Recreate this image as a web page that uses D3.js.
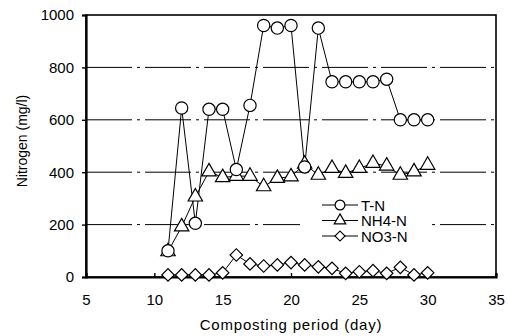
<!DOCTYPE html>
<html>
<head>
<meta charset="utf-8">
<script src="https://cdn.jsdelivr.net/npm/d3@7"></script>
<style>
  body { margin: 0; background: #fff; }
  svg text { font-family: "Liberation Sans", Arial, sans-serif; fill: #000; }
</style>
</head>
<body>
<div id="plot"></div>
<script>
// Width and height
const w = 508;
const h = 336;
const margin = {top: 15, right: 12, bottom: 59, left: 86};
const innerWidth = w - margin.left - margin.right;
const innerHeight = h - margin.top - margin.bottom;

// data
const days = [11, 12, 13, 14, 15, 16, 17, 18, 19, 20, 21, 22, 23, 24, 25, 26, 27, 28, 29, 30];
const totalN = [100, 645, 205, 640, 640, 410, 655, 960, 950, 960, 420, 950, 745, 745, 745, 745, 755, 600, 600, 600];
const nh4N = [97, 192, 306, 402, 380, 385, 385, 345, 377, 383, 431, 389, 415, 396, 415, 434, 424, 389, 402, 427];
const no3N = [8, 8, 8, 8, 16, 84, 50, 42, 46, 55, 46, 39, 33, 14, 20, 24, 14, 37, 8, 16];
const seriesNames = ["T-N", "NH4-N", "NO3-N"];
const seriesShapes = ["circle", "triangle", "diamond"];
const xTicks = [5, 10, 15, 20, 25, 30, 35];
const yTicks = [0, 200, 400, 600, 800, 1000];
const gridValues = [200, 400, 600, 800];

const series = [totalN, nh4N, no3N].map((vals, i) => ({
  name: seriesNames[i],
  shape: seriesShapes[i],
  values: days.map((d, j) => ({day: d, v: vals[j]}))
}));

const svg = d3.select("div#plot")
  .append("svg")
    .attr("width", w)
    .attr("height", h);

const g = svg.append("g")
  .attr("transform", `translate(${margin.left}, ${margin.top})`);

const xScale = d3.scaleLinear()
  .domain([5, 35])
  .range([0, innerWidth]);

const yScale = d3.scaleLinear()
  .domain([0, 1000])
  .range([innerHeight, 0]);

// grid lines (broken dash-dot look of the scan)
g.selectAll("line.grid")
  .data(gridValues)
  .enter()
  .append("line")
    .attr("class", "grid")
    .attr("x1", 0)
    .attr("x2", innerWidth)
    .attr("y1", d => yScale(d))
    .attr("y2", d => yScale(d))
    .attr("stroke", "#000")
    .attr("stroke-width", 1)
    .attr("stroke-dasharray", "46,5,3,5");

// frame
g.append("rect")
  .attr("width", innerWidth)
  .attr("height", innerHeight)
  .attr("fill", "none")
  .attr("stroke", "#000")
  .attr("stroke-width", 1.6);

// axes
const xAxis = d3.axisBottom(xScale)
  .tickValues(xTicks)
  .tickFormat(d3.format("d"))
  .tickSize(-4)
  .tickPadding(17);

const yAxis = d3.axisLeft(yScale)
  .tickValues(yTicks)
  .tickFormat(d3.format("d"))
  .tickSize(4)
  .tickPadding(8);

const gx = g.append("g")
  .attr("transform", `translate(0, ${innerHeight})`)
  .call(xAxis);

const gy = g.append("g")
  .call(yAxis);

[gx, gy].forEach(a => {
  a.select(".domain").attr("stroke-width", 2.2);
  a.selectAll(".tick line").attr("stroke-width", 1.4);
  a.selectAll(".tick text")
    .style("font-size", "15px")
    .attr("fill", "#000");
});

// marker shapes
const sym = {
  circle: d3.symbol().type(d3.symbolCircle).size(118),
  triangle: d3.symbol().type(d3.symbolTriangle).size(90),
  diamond: d3.symbol().type(d3.symbolSquare).size(78)
};

function drawMarker(sel, shape, scale) {
  const k = scale || 1;
  sel.append("path")
    .attr("d", sym[shape]())
    .attr("transform", (shape == "diamond" ? "rotate(45) " : "") + `scale(${k})`)
    .attr("fill", "#fff")
    .attr("stroke", "#000")
    .attr("stroke-width", 1.2 / k);
}

const line = d3.line()
  .x(d => xScale(d.day))
  .y(d => yScale(d.v));

// legend box (blanks out the grid behind it)
const legend = g.append("g")
  .attr("transform", `translate(${322 - margin.left}, ${205 - margin.top})`);

legend.append("rect")
  .attr("x", -22)
  .attr("y", -10)
  .attr("width", 132)
  .attr("height", 46)
  .attr("fill", "#fff");

// draw series: lines first, then markers
series.forEach(s => {
  g.append("path")
    .datum(s.values)
    .attr("d", line)
    .attr("fill", "none")
    .attr("stroke", "#000")
    .attr("stroke-width", 1);
});

series.slice().reverse().forEach(s => {
  g.selectAll(null)
    .data(s.values)
    .enter()
    .append("g")
      .attr("transform", d => `translate(${xScale(d.day)}, ${yScale(d.v)})`)
      .each(function() { drawMarker(d3.select(this), s.shape); });
});

// legend entries
series.forEach((s, i) => {
  const row = legend.append("g")
    .attr("transform", `translate(0, ${i * 15.5})`);
  row.append("line")
    .attr("x1", 0)
    .attr("x2", 36)
    .attr("stroke", "#000")
    .attr("stroke-width", 1.2);
  const m = row.append("g").attr("transform", "translate(18, 0)");
  drawMarker(m, s.shape, 0.8);
  row.append("text")
    .attr("x", 39)
    .attr("y", 5.5)
    .style("font-size", "15px")
    .text(s.name);
});

// x-axis label
g.append("text")
  .attr("x", innerWidth / 2)
  .attr("y", innerHeight + 53)
  .attr("text-anchor", "middle")
  .style("font-size", "15px")
  .style("letter-spacing", "0.8px")
  .text("Composting period (day)");

// y-axis label
g.append("text")
  .attr("transform", "rotate(-90)")
  .attr("x", -(141 - margin.top))
  .attr("y", 27 - margin.left)
  .attr("text-anchor", "middle")
  .style("font-size", "14px")
  .text("Nitrogen (mg/l)");
</script>
</body>
</html>
